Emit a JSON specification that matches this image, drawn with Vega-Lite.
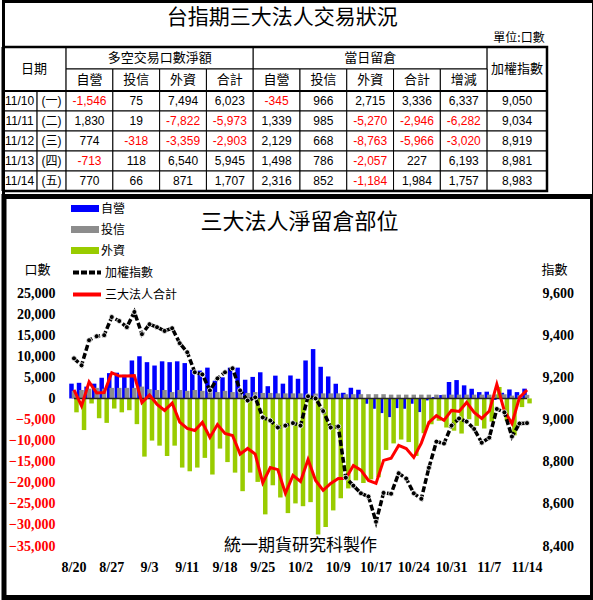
{
 "$schema": "https://vega.github.io/schema/vega-lite/v6.json",
 "padding": 0,
 "background": "white",
 "spacing": 97,
 "bounds": "flush",
 "config": {
  "view": {"stroke": null},
  "axis": {"domain": false, "ticks": false, "grid": false, "labelFont": "Liberation Serif", "labelFontSize": 14, "labelFontWeight": "bold", "labelColor": "black", "titleFont": "Noto Sans CJK TC", "titleFontSize": 13, "titleFontWeight": "normal", "titleColor": "black"},
  "legend": {"labelFont": "Noto Sans CJK TC", "labelFontSize": 12, "labelColor": "black"}
 },
 "datasets": {
  "daily": [
   {"d":"8/20","自營":3500,"投信":1800,"外資":-3300,"合計":2000,"加權指數":9290},
   {"d":"8/21","自營":3700,"投信":2000,"外資":-7500,"合計":-1800,"加權指數":9257},
   {"d":"8/22","自營":2800,"投信":2300,"外資":-1200,"合計":3900,"加權指數":9376},
   {"d":"8/25","自營":3500,"投信":2500,"外資":-4700,"合計":1300,"加權指數":9395},
   {"d":"8/26","自營":4900,"投信":2300,"外資":-5800,"合計":1400,"加權指數":9400},
   {"d":"8/27","自營":6000,"投信":2500,"外資":-2400,"合計":6100,"加權指數":9486},
   {"d":"8/28","自營":6100,"投信":2500,"外資":-3300,"合計":5300,"加權指數":9467},
   {"d":"8/29","自營":5600,"投信":2500,"外資":-2800,"合計":5300,"加權指數":9438},
   {"d":"9/1","自營":9000,"投信":2500,"外資":-6100,"合計":5400,"加權指數":9510},
   {"d":"9/2","自營":10000,"投信":2800,"外資":-13800,"合計":-1000,"加權指數":9405},
   {"d":"9/3","自營":8600,"投信":2200,"外資":-10000,"合計":800,"加權指數":9452},
   {"d":"9/4","自營":7800,"投信":2000,"外資":-11200,"合計":-1400,"加權指數":9438},
   {"d":"9/5","自營":8800,"投信":2000,"外資":-13650,"合計":-2850,"加權指數":9420},
   {"d":"9/9","自營":8600,"投信":1500,"外資":-11200,"合計":-1100,"加權指數":9433},
   {"d":"9/10","自營":8800,"投信":2000,"外資":-16400,"合計":-5600,"加權指數":9362},
   {"d":"9/11","自營":8380,"投信":1800,"外資":-17280,"合計":-7100,"加權指數":9319},
   {"d":"9/12","自營":6800,"投信":2000,"外資":-16400,"合計":-7600,"加權指數":9224},
   {"d":"9/15","自營":6600,"投信":1800,"外資":-14100,"合計":-5700,"加權指數":9214},
   {"d":"9/16","自營":7300,"投信":1500,"外資":-18050,"合計":-9250,"加權指數":9138},
   {"d":"9/17","自營":4200,"投信":1500,"外資":-11900,"合計":-6200,"加權指數":9195},
   {"d":"9/18","自營":5000,"投信":1800,"外資":-15100,"合計":-8300,"加權指數":9224},
   {"d":"9/19","自營":7300,"投信":1500,"外資":-17600,"合計":-8800,"加權指數":9243},
   {"d":"9/22","自營":7300,"投信":1500,"外資":-22000,"合計":-13200,"加權指數":9138},
   {"d":"9/23","自營":4430,"投信":1300,"外資":-17590,"合計":-11860,"加權指數":9090},
   {"d":"9/24","自營":5100,"投信":1500,"外資":-19800,"合計":-13200,"加權指數":9105},
   {"d":"9/25","自營":6200,"投信":1300,"外資":-27500,"合計":-20000,"加權指數":9010},
   {"d":"9/26","自營":2900,"投信":1300,"外資":-20600,"合計":-16400,"加權指數":8995},
   {"d":"9/29","自營":5400,"投信":1200,"外資":-23500,"合計":-16900,"加權指數":8962},
   {"d":"9/30","自營":3500,"投信":1200,"外資":-27200,"合計":-22500,"加權指數":8971},
   {"d":"10/1","自營":5440,"投信":1200,"外資":-24900,"合計":-18260,"加權指數":8983},
   {"d":"10/2","自營":4660,"投信":1200,"外資":-25560,"合計":-19700,"加權指數":8971},
   {"d":"10/3","自營":9000,"投信":1100,"外資":-24600,"合計":-14500,"加權指數":9110},
   {"d":"10/6","自營":11700,"投信":1150,"外資":-32300,"合計":-19450,"加權指數":9100},
   {"d":"10/7","自營":7500,"投信":1200,"外資":-30500,"合計":-21800,"加權指數":9040},
   {"d":"10/8","自營":5210,"投信":1200,"外資":-26560,"合計":-20150,"加權指數":8962},
   {"d":"10/9","自營":3480,"投信":1200,"外資":-23680,"合計":-19000,"加權指數":8967},
   {"d":"10/13","自營":1340,"投信":1000,"外資":-21340,"合計":-19000,"加權指數":8724},
   {"d":"10/14","自營":2530,"投信":1000,"外資":-19430,"合計":-15900,"加權指數":8686},
   {"d":"10/15","自營":2060,"投信":1000,"外資":-20060,"合計":-17000,"加權指數":8650},
   {"d":"10/16","自營":-1260,"投信":1000,"外資":-19190,"合計":-19450,"加權指數":8635},
   {"d":"10/17","自營":-2450,"投信":1000,"外資":-18700,"合計":-20150,"加權指數":8515},
   {"d":"10/20","自營":-3480,"投信":1000,"外資":-12220,"合計":-14700,"加權指數":8652},
   {"d":"10/21","自營":-4430,"投信":900,"外資":-10670,"合計":-14200,"加權指數":8648},
   {"d":"10/22","自營":-2300,"投信":900,"外資":-9750,"合計":-11150,"加權指數":8745},
   {"d":"10/23","自營":-2450,"投信":900,"外資":-10350,"合計":-11900,"加權指數":8720},
   {"d":"10/24","自營":-1260,"投信":900,"外資":-13640,"合計":-14000,"加權指數":8650},
   {"d":"10/27","自營":-3240,"投信":900,"外資":-8260,"合計":-10600,"加權指數":8624},
   {"d":"10/28","自營":-470,"投信":900,"外資":-6130,"合計":-5700,"加權指數":8771},
   {"d":"10/29","自營":300,"投信":900,"外資":-5300,"合計":-4100,"加權指數":8895},
   {"d":"10/30","自營":800,"投信":900,"外資":-6900,"合計":-5200,"加權指數":8886},
   {"d":"10/31","自營":3900,"投信":900,"外資":-7650,"合計":-2850,"加權指數":8971},
   {"d":"11/3","自營":4350,"投信":900,"外資":-8330,"合計":-3080,"加權指數":9005},
   {"d":"11/4","自營":3100,"投信":900,"外資":-4950,"合計":-950,"加權指數":8990},
   {"d":"11/5","自營":2290,"投信":900,"外資":-6510,"合計":-3320,"加權指數":8955},
   {"d":"11/6","自營":1500,"投信":900,"外資":-7140,"合計":-4740,"加權指數":8890},
   {"d":"11/7","自營":1600,"投信":900,"外資":-5501,"合計":-3001,"加權指數":8914},
   {"d":"11/10","自營":-345,"投信":966,"外資":2715,"合計":3336,"加權指數":9050},
   {"d":"11/11","自營":1339,"投信":985,"外資":-5270,"合計":-2946,"加權指數":9034},
   {"d":"11/12","自營":2129,"投信":668,"外資":-8763,"合計":-5966,"加權指數":8919},
   {"d":"11/13","自營":1498,"投信":786,"外資":-2057,"合計":227,"加權指數":8981},
   {"d":"11/14","自營":2316,"投信":852,"外資":-1184,"合計":1984,"加權指數":8983}
  ],
  "cells": [
   {"t":"日期","x0":0,"x1":1.37,"y0":0,"y1":2.2,"xm":0.685,"ym":1.1},
   {"t":"多空交易口數淨額","x0":1.37,"x1":5.37,"y0":0,"y1":1.1,"xm":3.37,"ym":0.55},
   {"t":"當日留倉","x0":5.37,"x1":10.37,"y0":0,"y1":1.1,"xm":7.87,"ym":0.55},
   {"t":"加權指數","x0":10.37,"x1":11.65,"y0":0,"y1":2.2,"xm":11.01,"ym":1.1},
   {"t":"自營","x0":1.37,"x1":2.37,"y0":1.1,"y1":2.2,"xm":1.87,"ym":1.65},
   {"t":"投信","x0":2.37,"x1":3.37,"y0":1.1,"y1":2.2,"xm":2.87,"ym":1.65},
   {"t":"外資","x0":3.37,"x1":4.37,"y0":1.1,"y1":2.2,"xm":3.87,"ym":1.65},
   {"t":"合計","x0":4.37,"x1":5.37,"y0":1.1,"y1":2.2,"xm":4.87,"ym":1.65},
   {"t":"自營","x0":5.37,"x1":6.37,"y0":1.1,"y1":2.2,"xm":5.87,"ym":1.65},
   {"t":"投信","x0":6.37,"x1":7.37,"y0":1.1,"y1":2.2,"xm":6.87,"ym":1.65},
   {"t":"外資","x0":7.37,"x1":8.37,"y0":1.1,"y1":2.2,"xm":7.87,"ym":1.65},
   {"t":"合計","x0":8.37,"x1":9.37,"y0":1.1,"y1":2.2,"xm":8.87,"ym":1.65},
   {"t":"增減","x0":9.37,"x1":10.37,"y0":1.1,"y1":2.2,"xm":9.87,"ym":1.65},
   {"t":"11/10","x0":0,"x1":0.75,"y0":2.2,"y1":3.2,"xm":0.375,"ym":2.7},
   {"t":"(一)","x0":0.75,"x1":1.37,"y0":2.2,"y1":3.2,"xm":1.06,"ym":2.7},
   {"t":"-1,546","x0":1.37,"x1":2.37,"y0":2.2,"y1":3.2,"xm":1.87,"ym":2.7},
   {"t":"75","x0":2.37,"x1":3.37,"y0":2.2,"y1":3.2,"xm":2.87,"ym":2.7},
   {"t":"7,494","x0":3.37,"x1":4.37,"y0":2.2,"y1":3.2,"xm":3.87,"ym":2.7},
   {"t":"6,023","x0":4.37,"x1":5.37,"y0":2.2,"y1":3.2,"xm":4.87,"ym":2.7},
   {"t":"-345","x0":5.37,"x1":6.37,"y0":2.2,"y1":3.2,"xm":5.87,"ym":2.7},
   {"t":"966","x0":6.37,"x1":7.37,"y0":2.2,"y1":3.2,"xm":6.87,"ym":2.7},
   {"t":"2,715","x0":7.37,"x1":8.37,"y0":2.2,"y1":3.2,"xm":7.87,"ym":2.7},
   {"t":"3,336","x0":8.37,"x1":9.37,"y0":2.2,"y1":3.2,"xm":8.87,"ym":2.7},
   {"t":"6,337","x0":9.37,"x1":10.37,"y0":2.2,"y1":3.2,"xm":9.87,"ym":2.7},
   {"t":"9,050","x0":10.37,"x1":11.65,"y0":2.2,"y1":3.2,"xm":11.01,"ym":2.7},
   {"t":"11/11","x0":0,"x1":0.75,"y0":3.2,"y1":4.2,"xm":0.375,"ym":3.7},
   {"t":"(二)","x0":0.75,"x1":1.37,"y0":3.2,"y1":4.2,"xm":1.06,"ym":3.7},
   {"t":"1,830","x0":1.37,"x1":2.37,"y0":3.2,"y1":4.2,"xm":1.87,"ym":3.7},
   {"t":"19","x0":2.37,"x1":3.37,"y0":3.2,"y1":4.2,"xm":2.87,"ym":3.7},
   {"t":"-7,822","x0":3.37,"x1":4.37,"y0":3.2,"y1":4.2,"xm":3.87,"ym":3.7},
   {"t":"-5,973","x0":4.37,"x1":5.37,"y0":3.2,"y1":4.2,"xm":4.87,"ym":3.7},
   {"t":"1,339","x0":5.37,"x1":6.37,"y0":3.2,"y1":4.2,"xm":5.87,"ym":3.7},
   {"t":"985","x0":6.37,"x1":7.37,"y0":3.2,"y1":4.2,"xm":6.87,"ym":3.7},
   {"t":"-5,270","x0":7.37,"x1":8.37,"y0":3.2,"y1":4.2,"xm":7.87,"ym":3.7},
   {"t":"-2,946","x0":8.37,"x1":9.37,"y0":3.2,"y1":4.2,"xm":8.87,"ym":3.7},
   {"t":"-6,282","x0":9.37,"x1":10.37,"y0":3.2,"y1":4.2,"xm":9.87,"ym":3.7},
   {"t":"9,034","x0":10.37,"x1":11.65,"y0":3.2,"y1":4.2,"xm":11.01,"ym":3.7},
   {"t":"11/12","x0":0,"x1":0.75,"y0":4.2,"y1":5.2,"xm":0.375,"ym":4.7},
   {"t":"(三)","x0":0.75,"x1":1.37,"y0":4.2,"y1":5.2,"xm":1.06,"ym":4.7},
   {"t":"774","x0":1.37,"x1":2.37,"y0":4.2,"y1":5.2,"xm":1.87,"ym":4.7},
   {"t":"-318","x0":2.37,"x1":3.37,"y0":4.2,"y1":5.2,"xm":2.87,"ym":4.7},
   {"t":"-3,359","x0":3.37,"x1":4.37,"y0":4.2,"y1":5.2,"xm":3.87,"ym":4.7},
   {"t":"-2,903","x0":4.37,"x1":5.37,"y0":4.2,"y1":5.2,"xm":4.87,"ym":4.7},
   {"t":"2,129","x0":5.37,"x1":6.37,"y0":4.2,"y1":5.2,"xm":5.87,"ym":4.7},
   {"t":"668","x0":6.37,"x1":7.37,"y0":4.2,"y1":5.2,"xm":6.87,"ym":4.7},
   {"t":"-8,763","x0":7.37,"x1":8.37,"y0":4.2,"y1":5.2,"xm":7.87,"ym":4.7},
   {"t":"-5,966","x0":8.37,"x1":9.37,"y0":4.2,"y1":5.2,"xm":8.87,"ym":4.7},
   {"t":"-3,020","x0":9.37,"x1":10.37,"y0":4.2,"y1":5.2,"xm":9.87,"ym":4.7},
   {"t":"8,919","x0":10.37,"x1":11.65,"y0":4.2,"y1":5.2,"xm":11.01,"ym":4.7},
   {"t":"11/13","x0":0,"x1":0.75,"y0":5.2,"y1":6.2,"xm":0.375,"ym":5.7},
   {"t":"(四)","x0":0.75,"x1":1.37,"y0":5.2,"y1":6.2,"xm":1.06,"ym":5.7},
   {"t":"-713","x0":1.37,"x1":2.37,"y0":5.2,"y1":6.2,"xm":1.87,"ym":5.7},
   {"t":"118","x0":2.37,"x1":3.37,"y0":5.2,"y1":6.2,"xm":2.87,"ym":5.7},
   {"t":"6,540","x0":3.37,"x1":4.37,"y0":5.2,"y1":6.2,"xm":3.87,"ym":5.7},
   {"t":"5,945","x0":4.37,"x1":5.37,"y0":5.2,"y1":6.2,"xm":4.87,"ym":5.7},
   {"t":"1,498","x0":5.37,"x1":6.37,"y0":5.2,"y1":6.2,"xm":5.87,"ym":5.7},
   {"t":"786","x0":6.37,"x1":7.37,"y0":5.2,"y1":6.2,"xm":6.87,"ym":5.7},
   {"t":"-2,057","x0":7.37,"x1":8.37,"y0":5.2,"y1":6.2,"xm":7.87,"ym":5.7},
   {"t":"227","x0":8.37,"x1":9.37,"y0":5.2,"y1":6.2,"xm":8.87,"ym":5.7},
   {"t":"6,193","x0":9.37,"x1":10.37,"y0":5.2,"y1":6.2,"xm":9.87,"ym":5.7},
   {"t":"8,981","x0":10.37,"x1":11.65,"y0":5.2,"y1":6.2,"xm":11.01,"ym":5.7},
   {"t":"11/14","x0":0,"x1":0.75,"y0":6.2,"y1":7.2,"xm":0.375,"ym":6.7},
   {"t":"(五)","x0":0.75,"x1":1.37,"y0":6.2,"y1":7.2,"xm":1.06,"ym":6.7},
   {"t":"770","x0":1.37,"x1":2.37,"y0":6.2,"y1":7.2,"xm":1.87,"ym":6.7},
   {"t":"66","x0":2.37,"x1":3.37,"y0":6.2,"y1":7.2,"xm":2.87,"ym":6.7},
   {"t":"871","x0":3.37,"x1":4.37,"y0":6.2,"y1":7.2,"xm":3.87,"ym":6.7},
   {"t":"1,707","x0":4.37,"x1":5.37,"y0":6.2,"y1":7.2,"xm":4.87,"ym":6.7},
   {"t":"2,316","x0":5.37,"x1":6.37,"y0":6.2,"y1":7.2,"xm":5.87,"ym":6.7},
   {"t":"852","x0":6.37,"x1":7.37,"y0":6.2,"y1":7.2,"xm":6.87,"ym":6.7},
   {"t":"-1,184","x0":7.37,"x1":8.37,"y0":6.2,"y1":7.2,"xm":7.87,"ym":6.7},
   {"t":"1,984","x0":8.37,"x1":9.37,"y0":6.2,"y1":7.2,"xm":8.87,"ym":6.7},
   {"t":"1,757","x0":9.37,"x1":10.37,"y0":6.2,"y1":7.2,"xm":9.87,"ym":6.7},
   {"t":"8,983","x0":10.37,"x1":11.65,"y0":6.2,"y1":7.2,"xm":11.01,"ym":6.7}
  ]
 },
 "vconcat": [
  {
   "width": 485,
   "height": 196,
   "view": {"stroke": null},
   "data": {"name": "cells"},
   "layer": [
    {"mark": {"type": "rect", "fill": "white", "stroke": "black", "strokeWidth": 1},
     "encoding": {
      "x": {"field": "x0", "type": "quantitative", "scale": {"domain": [1.2826, 11.65], "nice": false, "zero": false}, "axis": null},
      "x2": {"field": "x1"},
      "y": {"field": "y0", "type": "quantitative", "scale": {"domain": [-2.35, 7.45], "nice": false, "zero": false, "reverse": true}, "axis": null},
      "y2": {"field": "y1"}
     }},
    {"transform": [{"filter": "datum.ym < 2.2"}],
     "mark": {"type": "text", "font": "Noto Sans CJK TC", "fontSize": 13, "baseline": "middle", "align": "center", "color": "black"},
     "encoding": {"x": {"field": "xm", "type": "quantitative"}, "y": {"field": "ym", "type": "quantitative"}, "text": {"field": "t"}}},
    {"transform": [{"filter": "datum.ym > 2.2"}],
     "mark": {"type": "text", "font": "Liberation Sans, Noto Sans CJK TC", "fontSize": 12, "baseline": "middle", "align": "center"},
     "encoding": {"x": {"field": "xm", "type": "quantitative"}, "y": {"field": "ym", "type": "quantitative"}, "text": {"field": "t"},
      "color": {"condition": {"test": "indexof(datum.t, '-') === 0", "value": "#ff0000"}, "value": "black"}}},
    {"data": {"values": [{}]},
     "mark": {"type": "rect", "filled": false, "stroke": "black", "strokeWidth": 2.5},
     "encoding": {"x": {"datum": 0.027}, "x2": {"datum": 11.65}, "y": {"datum": 0}, "y2": {"datum": 7.2}}},
    {"data": {"values": [{}]},
     "mark": {"type": "rule", "stroke": "black", "strokeWidth": 2},
     "encoding": {"x": {"datum": 0}, "x2": {"datum": 11.65}, "y": {"datum": 2.2}}},
    {"data": {"values": [{}]},
     "mark": {"type": "rect", "filled": false, "stroke": "black", "strokeWidth": 3},
     "encoding": {"x": {"datum": 0.032}, "x2": {"datum": 12.644}, "y": {"datum": -2.275}, "y2": {"datum": 27.6}}},
    {"data": {"values": [{}]},
     "mark": {"type": "rect", "filled": false, "stroke": "black", "strokeWidth": 5},
     "encoding": {"x": {"datum": 0.0428}, "x2": {"datum": 12.623}, "y": {"datum": 7.475}, "y2": {"datum": 27.525}}},
    {"data": {"values": [{}]},
     "mark": {"type": "text", "text": "台指期三大法人交易狀況", "font": "Noto Sans CJK TC", "fontSize": 21, "baseline": "middle", "align": "center", "color": "black"},
     "encoding": {"x": {"datum": 5.99}, "y": {"datum": -1.45}}},
    {"data": {"values": [{}]},
     "mark": {"type": "text", "text": "單位:口數", "font": "Noto Sans CJK TC", "fontSize": 12, "baseline": "middle", "align": "right", "color": "black"},
     "encoding": {"x": {"datum": 11.6}, "y": {"datum": -0.45}}}
   ]
  },
  {
   "width": 475,
   "height": 253,
   "title": {"text": "三大法人淨留倉部位", "font": "Noto Sans CJK TC", "fontSize": 22, "fontWeight": "normal", "color": "black", "anchor": "middle", "offset": 29},
   "data": {"name": "daily"},
   "encoding": {
    "x": {"field": "d", "type": "ordinal", "sort": null,
     "scale": {"type": "band", "paddingInner": 0, "paddingOuter": 0.954, "align": 0.57},
     "axis": {"values": ["8/20","8/27","9/3","9/11","9/18","9/25","10/2","10/9","10/17","10/24","10/31","11/7","11/14"], "labelAngle": 0, "labelPadding": 14, "title": null, "orient": "bottom"}}
   },
   "layer": [
    {"mark": {"type": "bar", "width": 4.5, "xOffset": -2.5},
     "encoding": {
      "y": {"field": "自營", "type": "quantitative", "scale": {"domain": [-35000, 25000], "nice": false, "zero": false},
       "axis": {"values": [-35000,-30000,-25000,-20000,-15000,-10000,-5000,0,5000,10000,15000,20000,25000], "labelExpr": "format(datum.value, ',')", "labelPadding": 7, "minExtent": 60, "orient": "left",
        "title": "口數", "titleAngle": 0, "titleX": -25, "titleY": -24, "titleAlign": "center", "titleBaseline": "middle",
        "labelColor": {"condition": {"test": "datum.value < 0", "value": "#ff0000"}, "value": "black"}}},
      "fill": {"datum": "自營", "scale": {"domain": ["自營","投信","外資"], "range": ["#0000ff","#8c8c8c","#99cc00"]},
       "legend": {"title": null, "orient": "none", "legendX": 16, "legendY": 201.5, "symbolType": "M-2,-0.5H2V0.5H-2Z", "symbolSize": 196, "symbolStrokeWidth": 0, "labelOffset": 9, "rowPadding": 8}}
     }},
    {"mark": {"type": "bar", "width": 4.5, "xOffset": 0},
     "encoding": {"y": {"field": "投信", "type": "quantitative", "scale": {"domain": [-35000, 25000], "nice": false, "zero": false}, "axis": null}, "fill": {"datum": "投信"}}},
    {"mark": {"type": "bar", "width": 4.5, "xOffset": 2.5},
     "encoding": {"y": {"field": "外資", "type": "quantitative", "scale": {"domain": [-35000, 25000], "nice": false, "zero": false}, "axis": null}, "fill": {"datum": "外資"}}},
    {"data": {"values": [{}]},
     "mark": {"type": "rule", "stroke": "#222222", "strokeWidth": 1.5},
     "encoding": {"x": {"datum": "8/20"}, "x2": {"datum": "11/14"}, "y": {"datum": 0, "scale": {"domain": [-35000, 25000], "nice": false, "zero": false}, "axis": null}}},
    {"mark": {"type": "line", "strokeWidth": 3},
     "encoding": {"y": {"field": "合計", "type": "quantitative", "scale": {"domain": [-35000, 25000], "nice": false, "zero": false}, "axis": null},
      "stroke": {"datum": "三大法人合計", "scale": {"domain": ["加權指數","三大法人合計"], "range": ["#000000","#ff0000"]},
       "legend": {"title": null, "orient": "none", "legendX": 16, "legendY": 263.5, "symbolType": "M-2,0H2", "symbolSize": 196, "symbolStrokeWidth": 4, "labelOffset": 9, "rowPadding": 5,
        "encode": {"symbols": {"update": {"strokeDash": {"signal": "datum.value === '加權指數' ? [6,2] : [1,0]"}}}}}}}},
    {"data": {"values": [{}]},
     "mark": {"type": "text", "text": "統一期貨研究科製作", "font": "Noto Sans CJK TC", "fontSize": 17, "baseline": "middle", "align": "center", "color": "black"},
     "encoding": {"x": {"datum": "10/2"}, "y": {"datum": -35000, "scale": {"domain": [-35000, 25000], "nice": false, "zero": false}, "axis": null}}},
    {"mark": {"type": "line", "strokeWidth": 3.5, "strokeDash": [6, 2.5]},
     "encoding": {
      "y": {"field": "加權指數", "type": "quantitative", "scale": {"domain": [8400, 9600], "nice": false, "zero": false},
       "axis": {"orient": "right", "values": [8400,8600,8800,9000,9200,9400,9600], "labelExpr": "format(datum.value, ',')", "labelPadding": 5,
        "title": "指數", "titleAngle": 0, "titleX": 17, "titleY": -24, "titleAlign": "center", "titleBaseline": "middle"}},
      "stroke": {"datum": "加權指數"}
     }},
    {"mark": {"type": "point", "filled": true, "fill": "black", "stroke": "white", "strokeWidth": 0.8, "size": 25, "opacity": 1},
     "encoding": {"y": {"field": "加權指數", "type": "quantitative", "scale": {"domain": [8400, 9600], "nice": false, "zero": false}, "axis": null}}}
   ],
   "resolve": {"scale": {"y": "independent"}}
  }
 ]
}
